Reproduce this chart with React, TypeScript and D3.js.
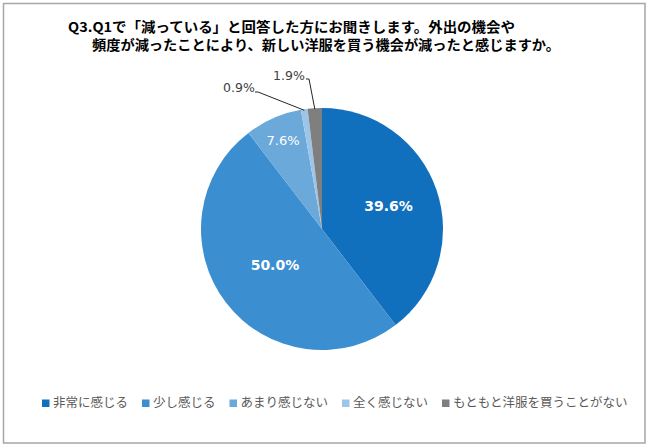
import React from "react";
import * as d3 from "d3";

const categories = ["非常に感じる", "少し感じる", "あまり感じない", "全く感じない", "もともと洋服を買うことがない"];
const values = [39.6, 50.0, 7.6, 0.9, 1.9];
const colors = ["#1170be", "#3b8ecf", "#6aa9da", "#9dc5e7", "#7f7f7f"];
const titleLines = [
  "Q3.Q1で「減っている」と回答した方にお聞きします。外出の機会や",
  "頻度が減ったことにより、新しい洋服を買う機会が減ったと感じますか。",
];

const W = 650, H = 448;
const cx = 322, cy = 229, R = 121;
const numFont = "'DejaVu Sans', Verdana, sans-serif";
const jpFont = "'Noto Sans CJK JP', sans-serif";

export default function App() {
  const pie = d3.pie<number>().sort(null).value((d) => d)(values);
  const arc = d3.arc<d3.PieArcDatum<number>>().innerRadius(0).outerRadius(R);
  const fmt = (v: number) => v.toFixed(1) + "%";

  const insideFactor = [0.58, 0.49, 0.8];
  const outsideLabels = [
    { idx: 3, tx: 239, ty: 88, bend: [258, 92] },
    { idx: 4, tx: 289, ty: 76, bend: [309, 79] },
  ];

  // legend layout
  const legendY = 403;
  const charW = 12.5;
  const legendX: number[] = [];
  let lx = 42;
  categories.forEach((c) => {
    legendX.push(lx);
    lx += 11 + c.length * charW + 14;
  });

  return (
    <div style={{ margin: 0 }}>
      <svg width={W} height={H} style={{ display: "block", position: "absolute", left: 0, top: 0 }}>
        <rect x={0} y={0} width={W} height={H} fill="#fff" />
        <rect x={3.5} y={3.5} width={641.5} height={439.5} fill="#fff" stroke="#a6a6a6" strokeWidth={1.5} />
        <g fontFamily={jpFont} fontWeight="bold" fontSize={13.5} fill="#000">
          <text x={68} y={27} dy="0.35em" textLength={447} lengthAdjust="spacingAndGlyphs">{titleLines[0]}</text>
          <text x={92} y={45} dy="0.35em" textLength={468} lengthAdjust="spacingAndGlyphs">{titleLines[1]}</text>
        </g>
        <g transform={`translate(${cx},${cy})`}>
          {pie.map((p, i) => (
            <path key={i} d={arc(p) || ""} fill={colors[i]} />
          ))}
          {pie.slice(0, 3).map((p, i) => {
            const a = (p.startAngle + p.endAngle) / 2;
            const r = R * insideFactor[i];
            const x = r * Math.sin(a);
            const y = -r * Math.cos(a);
            return (
              <text key={i} x={x} y={y} dy="0.35em" textAnchor="middle" fill="#fff" fontFamily={numFont}
                fontSize={i < 2 ? 14 : 13} fontWeight={i < 2 ? "bold" : "normal"}>
                {fmt(values[i])}
              </text>
            );
          })}
        </g>
        {outsideLabels.map((o) => {
          const p = pie[o.idx];
          const a = (p.startAngle + p.endAngle) / 2;
          const ex = cx + (R - 1) * Math.sin(a);
          const ey = cy - (R - 1) * Math.cos(a);
          return (
            <g key={o.idx}>
              <polyline points={`${o.bend[0] - 3},${o.bend[1]} ${o.bend[0]},${o.bend[1]} ${ex},${ey}`}
                fill="none" stroke="#262626" strokeWidth={1} />
              <text x={o.tx} y={o.ty} dy="0.35em" textAnchor="middle" fontFamily={numFont} fontSize={12.5} fill="#404040">
                {fmt(values[o.idx])}
              </text>
            </g>
          );
        })}
        <g fontFamily={jpFont} fontSize={12.5} fill="#595959">
          {categories.map((c, i) => (
            <g key={i}>
              <rect x={legendX[i]} y={legendY - 3.5} width={7.5} height={7.5} fill={colors[i]} />
              <text x={legendX[i] + 11} y={legendY} dy="0.35em">{c}</text>
            </g>
          ))}
        </g>
      </svg>
    </div>
  );
}
